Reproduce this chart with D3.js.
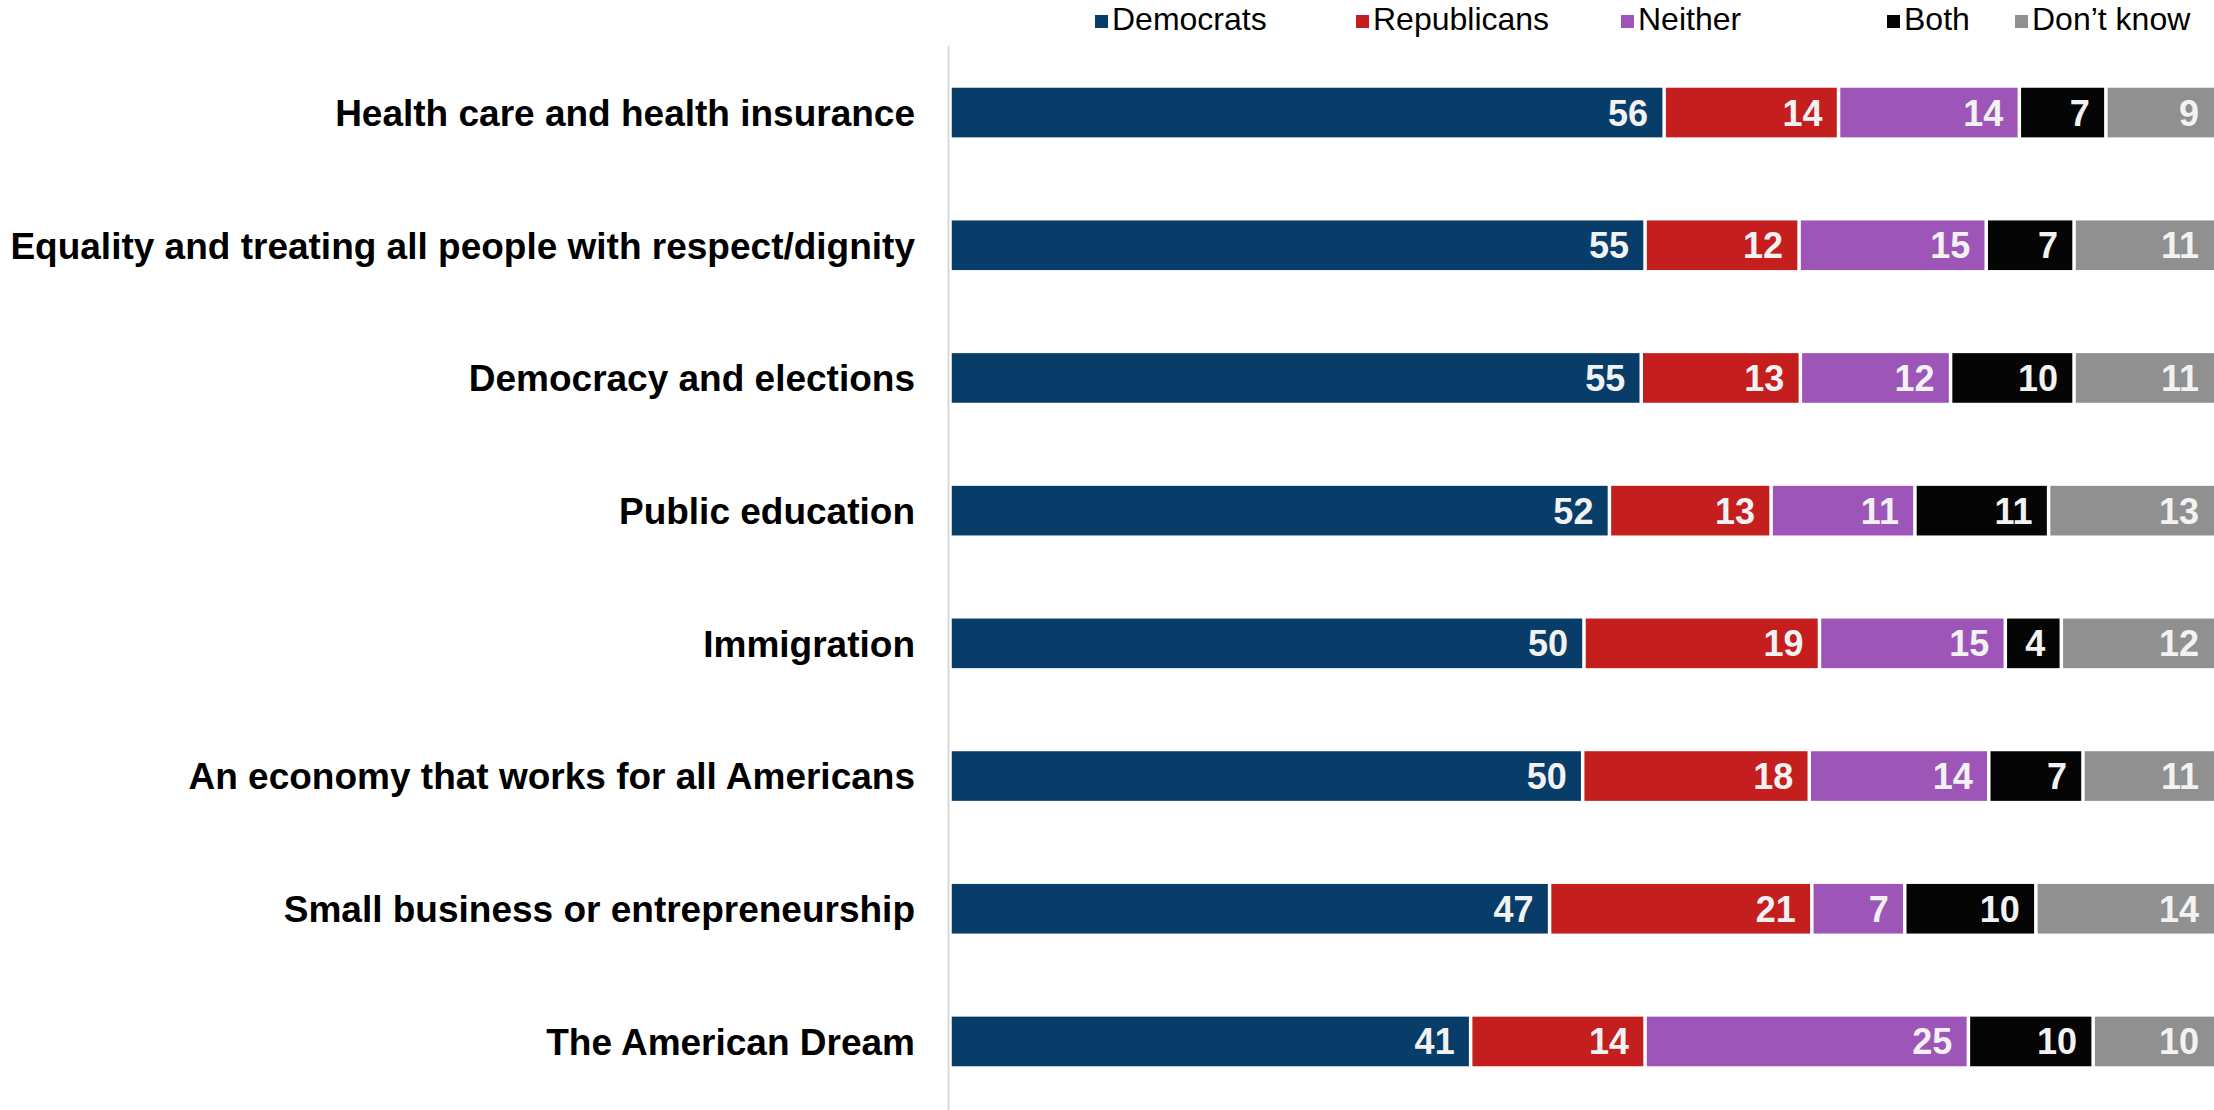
<!DOCTYPE html>
<html>
<head>
<meta charset="utf-8">
<script src="https://cdn.jsdelivr.net/npm/d3@7"></script>
<style>
  html, body { margin: 0; padding: 0; background: #fff; }
  svg { display: block; }
</style>
</head>
<body>
<script>
const categories = [
  "Health care and health insurance",
  "Equality and treating all people with respect/dignity",
  "Democracy and elections",
  "Public education",
  "Immigration",
  "An economy that works for all Americans",
  "Small business or entrepreneurship",
  "The American Dream"
];
const seriesNames = ["Democrats", "Republicans", "Neither", "Both", "Don\u2019t know"];
// segment shares as measured from the bar lengths (unrounded)
const democrats   = [56.1, 54.6, 54.3, 51.8, 49.8, 49.7, 47.1, 40.9];
const republicans = [13.7, 12.1, 12.5, 12.7, 18.5, 17.8, 20.6, 13.7];
const neither     = [14.2, 14.7, 11.8, 11.3, 14.6, 14.1, 7.3, 25.4];
const both        = [6.8, 6.9, 9.7, 10.5, 4.4, 7.4, 10.3, 9.8];
const dontKnow    = [9.2, 11.7, 11.7, 13.7, 12.7, 11.0, 14.7, 10.2];
// printed data labels
const democratsLabel   = [56, 55, 55, 52, 50, 50, 47, 41];
const republicansLabel = [14, 12, 13, 13, 19, 18, 21, 14];
const neitherLabel     = [14, 15, 12, 11, 15, 14, 7, 25];
const bothLabel        = [7, 7, 10, 11, 4, 7, 10, 10];
const dontKnowLabel    = [9, 11, 11, 13, 12, 11, 14, 10];
const colors = ["#083d6a", "#c41e1e", "#9e55b8", "#050505", "#909090"];

const W = 2214, H = 1110;
const svg = d3.select("body").append("svg").attr("width", W).attr("height", H);

const series = [democrats, republicans, neither, both, dontKnow];
const labels = [democratsLabel, republicansLabel, neitherLabel, bothLabel, dontKnowLabel];
const rows = categories.map((c, i) => {
  const r = { cat: c, idx: i };
  seriesNames.forEach((s, j) => r[s] = series[j][i]);
  return r;
});
const stacked = d3.stack().keys(seriesNames)(rows);

const x = d3.scaleLinear().domain([0, 100]).range([950, 2223]);
const y = d3.scaleBand().domain(categories).range([46.2, 1107.8])
  .paddingInner(0.626).paddingOuter(0.313);

// axis line
svg.append("line")
  .attr("x1", 948.5).attr("x2", 948.5)
  .attr("y1", 46).attr("y2", H)
  .attr("stroke", "#d9d9d9").attr("stroke-width", 2);

// category labels
svg.append("g").selectAll("text").data(categories).join("text")
  .attr("x", 915)
  .attr("y", d => y(d) + y.bandwidth() / 2)
  .attr("dy", "0.36em")
  .attr("text-anchor", "end")
  .attr("font-family", "Liberation Sans, Arial, sans-serif")
  .attr("font-weight", "bold")
  .attr("font-size", 37)
  .attr("fill", "#000")
  .text(d => d);

// bars
const layers = svg.append("g").selectAll("g").data(stacked).join("g")
  .attr("fill", (d, i) => colors[i]);

layers.selectAll("rect").data(d => d).join("rect")
  .attr("x", d => x(d[0]) + 1.75)
  .attr("y", d => y(d.data.cat))
  .attr("width", d => x(d[1]) - x(d[0]) - 3.5)
  .attr("height", y.bandwidth());

layers.each(function(s, j) {
  d3.select(this).selectAll("text").data(s).join("text")
    .attr("x", d => Math.min(x(d[1]) - 16, 2199))
    .attr("y", d => y(d.data.cat) + y.bandwidth() / 2)
    .attr("dy", "0.36em")
    .attr("text-anchor", "end")
    .attr("font-family", "Liberation Sans, Arial, sans-serif")
    .attr("font-weight", "bold")
    .attr("font-size", 36)
    .attr("fill", "#f2f2f2")
    .text(d => labels[j][d.data.idx]);
});

// legend
const legendX = [1095, 1356, 1621, 1887, 2015];
const lg = svg.append("g").selectAll("g").data(seriesNames).join("g")
  .attr("transform", (d, i) => `translate(${legendX[i]},0)`);
lg.append("rect").attr("x", 0).attr("y", 15).attr("width", 13).attr("height", 13)
  .attr("fill", (d, i) => colors[i]);
lg.append("text").attr("x", 17).attr("y", 30)
  .attr("font-family", "Liberation Sans, Arial, sans-serif")
  .attr("font-size", 32)
  .attr("fill", "#000")
  .text(d => d);
</script>
</body>
</html>
